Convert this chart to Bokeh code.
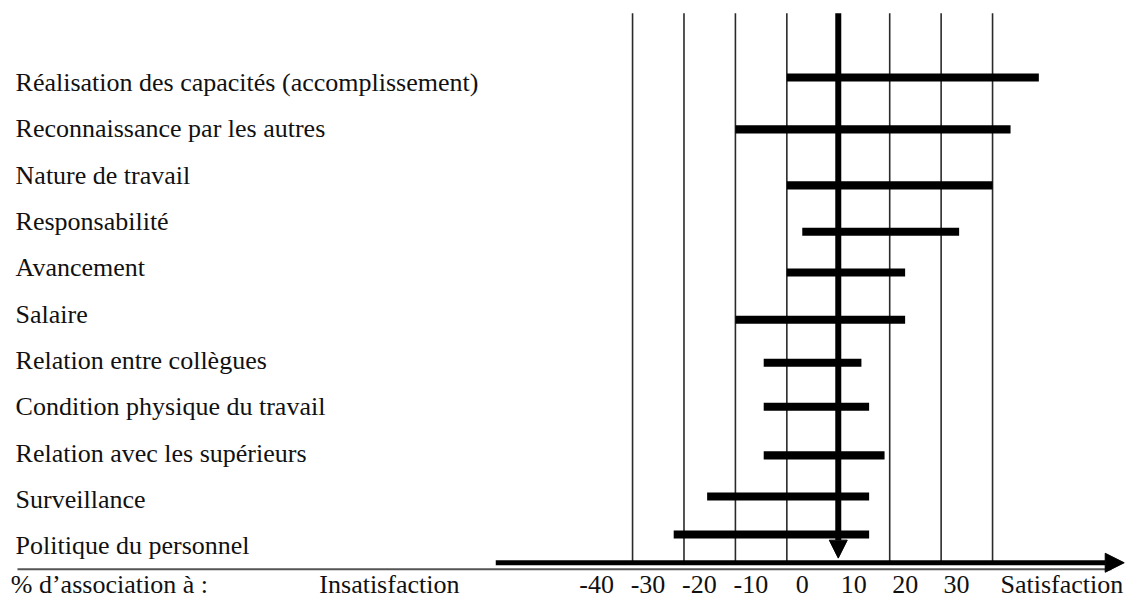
from bokeh.plotting import figure
from bokeh.models import Range1d, Arrow, NormalHead, ColumnDataSource
from bokeh.core.properties import value
from bokeh.embed import file_html
from bokeh.resources import INLINE

# ---- data ----
factors = [
    "Réalisation des capacités (accomplissement)",
    "Reconnaissance par les autres",
    "Nature de travail",
    "Responsabilité",
    "Avancement",
    "Salaire",
    "Relation entre collègues",
    "Condition physique du travail",
    "Relation avec les supérieurs",
    "Surveillance",
    "Politique du personnel",
]
low = [-10, -20, -10, -7, -10, -20, -14.5, -14.5, -14.5, -25.5, -32]
high = [39, 33.5, 30, 23.5, 13, 13, 4.5, 6, 9, 6, 6]
tick_values = [-40, -30, -20, -10, 0, 10, 20, 30]
tick_labels = ["-40", "-30", "-20", "-10", "0", "10", "20", "30"]
axis_title = "% d’association à :"
left_label = "Insatisfaction"
right_label = "Satisfaction"

# ---- layout (row units = label rows, x units = % scale) ----
FONT = value("Liberation Serif")
FS = "26px"
rows = list(range(len(factors)))
label_y = [r - 0.17 for r in rows]
bar_shift = [-0.28, -0.16, 0.05, 0.05, -0.07, -0.05, -0.12, -0.17, -0.12, -0.23, -0.41]
bar_y = [r + s for r, s in zip(rows, bar_shift)]
y_top, y_axis, y_gray, y_text = -1.67, 10.2, 10.34, 10.68
x_left_text, x_axis_start, x_end = -159.97, -66.6, 55.6
tick_label_shift = -7

p = figure(width=1125, height=598, output_backend="svg", toolbar_location=None,
           x_range=Range1d(-162.9, 55.85), y_range=Range1d(10.972, -1.944),
           min_border=0, outline_line_color=None, background_fill_color="white")
p.axis.visible = False
p.grid.visible = False

# thin vertical reference lines
thin = [v for v in tick_values if v != 0]
p.segment(x0=thin, x1=thin, y0=[y_top] * len(thin), y1=[y_axis] * len(thin),
          line_color="#2a2a2a", line_width=1.6)

# gray base line
p.segment(x0=[-159.6], x1=[53.1], y0=[y_gray], y1=[y_gray], line_color="#555555", line_width=2)

# horizontal axis arrow
p.add_layout(Arrow(x_start=x_axis_start, y_start=y_axis, x_end=x_end, y_end=y_axis,
                   line_width=5, line_color="black",
                   end=NormalHead(size=19, fill_color="black", line_color="black")))

# bars
src = ColumnDataSource(dict(y=bar_y, left=low, right=high))
p.hbar(y="y", left="left", right="right", height=0.175, source=src,
       fill_color="black", line_color=None)

# thick vertical arrow at 0
p.add_layout(Arrow(x_start=0, y_start=y_top, x_end=0, y_end=10.1,
                   line_width=6, line_color="black",
                   end=NormalHead(size=18, fill_color="black", line_color="black")))

# factor labels
p.text(x=[x_left_text] * len(factors), y=label_y, text=factors, text_font=FONT,
       text_font_size=FS, text_baseline="alphabetic", text_align="left", text_color="#111111")

# bottom texts
p.text(x=[-160.9], y=[y_text], text=[axis_title], text_font=FONT, text_font_size=FS,
       text_baseline="alphabetic", text_align="left", text_color="#111111")
p.text(x=[-100.9], y=[y_text], text=[left_label], text_font=FONT, text_font_size=FS,
       text_baseline="alphabetic", text_align="left", text_color="#111111")
p.text(x=[v + tick_label_shift for v in tick_values], y=[y_text] * len(tick_values),
       text=tick_labels, text_font=FONT, text_font_size=FS, text_baseline="alphabetic",
       text_align="center", text_color="#111111")
p.text(x=[55.4], y=[y_text], text=[right_label], text_font=FONT, text_font_size=FS,
       text_baseline="alphabetic", text_align="right", text_color="#111111")

open("out.html", "w").write(file_html(p, INLINE))
